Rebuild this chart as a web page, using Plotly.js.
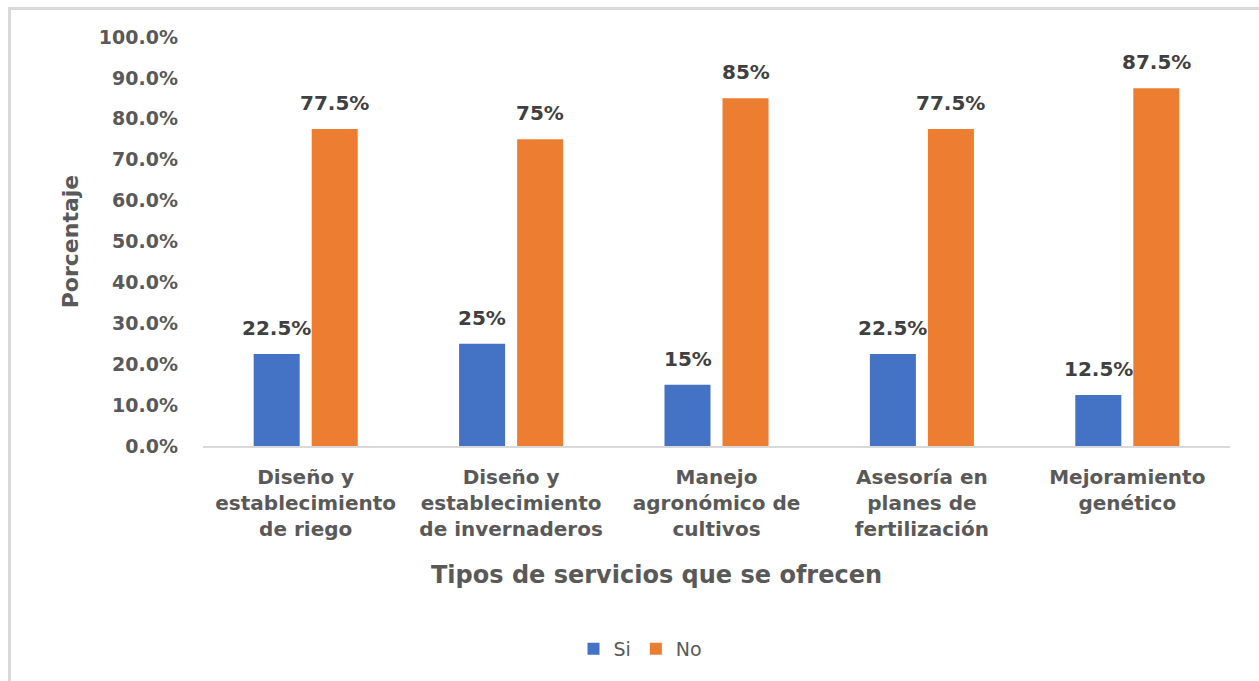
<!DOCTYPE html>
<html>
<head>
<meta charset="utf-8">
<script src="https://cdn.plot.ly/plotly-3.0.1.min.js"></script>
<style>
  html, body { margin: 0; padding: 0; background: #ffffff; }
  #wrap { position: relative; width: 1259px; height: 681px; }
  #chart { width: 1259px; height: 681px; }
  #frame { position: absolute; left: 8px; top: 7px; right: -10px; bottom: -10px;
           border-left: 3px solid #d9d9d9; border-top: 3px solid #d9d9d9; pointer-events: none; }
</style>
</head>
<body>
<div id="wrap">
  <div id="chart"></div>
  <div id="frame"></div>
</div>
<script>
const categories = [
  "Diseño y<br>establecimiento<br>de riego",
  "Diseño y<br>establecimiento<br>de invernaderos",
  "Manejo<br>agronómico de<br>cultivos",
  "Asesoría en<br>planes de<br>fertilización",
  "Mejoramiento<br>genético"
];
const siValues = [22.5, 25, 15, 22.5, 12.5];
const noValues = [77.5, 75, 85, 77.5, 87.5];
const seriesNames = ["Si", "No"];
const yTickValues = [0, 10, 20, 30, 40, 50, 60, 70, 80, 90, 100];
const yTickLabels = ["0.0%", "10.0%", "20.0%", "30.0%", "40.0%", "50.0%", "60.0%", "70.0%", "80.0%", "90.0%", "100.0%"];
const xTitle = "Tipos de servicios que se ofrecen";
const yTitle = "Porcentaje";

const FONT = '"DejaVu Sans", Verdana, sans-serif';
const fmt = v => (Number.isInteger(v) ? v.toString() : v.toFixed(1)) + "%";

const traces = [
  { type: "bar", name: seriesNames[0], x: categories, y: siValues,
    marker: { color: "#4472C4", line: { width: 0 } }, hoverinfo: "y" },
  { type: "bar", name: seriesNames[1], x: categories, y: noValues,
    marker: { color: "#ED7D31", line: { width: 0 } }, hoverinfo: "y" }
];

const annotations = [];
[[siValues, -29], [noValues, 29]].forEach(([vals, dx]) => {
  vals.forEach((v, i) => {
    annotations.push({
      xref: "x", yref: "y", x: categories[i], y: v, xshift: dx, yshift: 26,
      yanchor: "middle", xanchor: "center", showarrow: false,
      text: fmt(v), font: { family: FONT, size: 20, color: "#404040", weight: 700 }
    });
  });
});
annotations.push({
  xref: "paper", yref: "paper", x: 0.442, y: -0.315, xanchor: "center", yanchor: "middle",
  showarrow: false, text: xTitle,
  font: { family: FONT, size: 24, color: "#595959", weight: 700 }
});

const layout = {
  width: 1259, height: 681,
  margin: { l: 203, r: 29, t: 37, b: 235, pad: 0 },
  paper_bgcolor: "rgba(0,0,0,0)", plot_bgcolor: "#ffffff",
  barmode: "group", bargap: 0.435, bargroupgap: 0.207,
  font: { family: FONT, color: "#595959" },
  showlegend: true,
  legend: { orientation: "h", x: 0.426, y: -0.496, xanchor: "center", yanchor: "middle",
            font: { family: FONT, size: 19, color: "#595959" }, traceorder: "normal" },
  xaxis: {
    type: "category", showgrid: false, zeroline: false,
    showline: true, linecolor: "#d9d9d9", linewidth: 2,
    ticks: "", ticklabelstandoff: 12,
    tickfont: { family: FONT, size: 20, color: "#595959", weight: 700 },
    automargin: false
  },
  yaxis: {
    range: [0, 100], tickvals: yTickValues, ticktext: yTickLabels,
    showgrid: false, zeroline: false, showline: false, ticks: "",
    ticklabelstandoff: 24,
    tickfont: { family: FONT, size: 19, color: "#595959", weight: 700 },
    title: { text: yTitle, standoff: 14, font: { family: FONT, size: 22, color: "#595959", weight: 700 } },
    automargin: false
  },
  annotations: annotations
};

Plotly.newPlot("chart", traces, layout, { displayModeBar: false, staticPlot: true });
</script>
</body>
</html>
